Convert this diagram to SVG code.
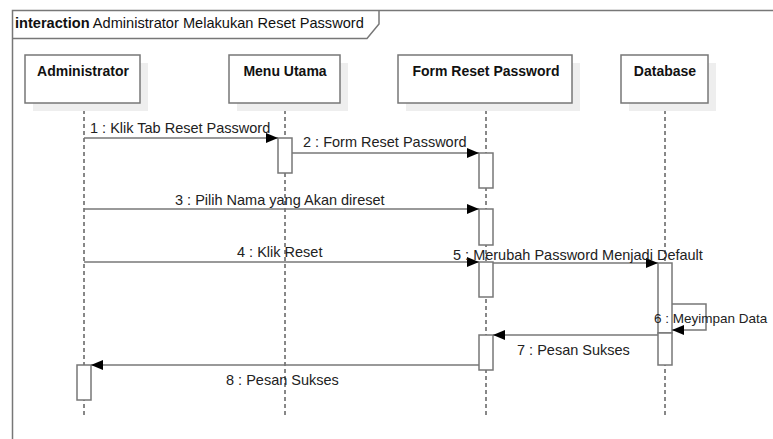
<svg xmlns="http://www.w3.org/2000/svg" width="773" height="439" viewBox="0 0 773 439">
<defs>
<style>
.frame{fill:none;stroke:#777;stroke-width:1.5}
.box{fill:#fff;stroke:#777;stroke-width:1.5}
.shadow{fill:#eeeeee;stroke:none}
.name{font-family:"Liberation Sans",Arial,sans-serif;font-weight:bold;font-size:14px;fill:#111;text-anchor:middle}
.title{font-family:"Liberation Sans",Arial,sans-serif;font-size:14.6px;fill:#111}
.lbl{font-family:"Liberation Sans",Arial,sans-serif;font-size:14.5px;fill:#222}
.lbl.small{font-size:13.5px}
.life{stroke:#111;stroke-width:1;stroke-dasharray:4 3;fill:none}
.act{fill:#fff;stroke:#777;stroke-width:1.5}
.msg{stroke:#777;stroke-width:1.5;fill:none;marker-end:url(#ah)}
</style>
<marker id="ah" viewBox="0 0 12 10" refX="12" refY="5" markerWidth="12" markerHeight="10" markerUnits="userSpaceOnUse" orient="auto">
<path d="M0,0 L12,5 L0,10 Z" fill="#000"/>
</marker>
</defs>
<rect width="773" height="439" fill="#fff"/>
<g id="frame">
<path class="frame" d="M12.5,439 V10.5 H773"/>
<path class="frame" d="M12.5,38.5 H367 L379,24 V10.5"/>
<text class="title" x="15" y="28"><tspan font-weight="bold">interaction</tspan> Administrator Melakukan Reset Password</text>
</g>
<g id="lifelines">
<line class="life" x1="84" y1="103" x2="84" y2="415"/>
<line class="life" x1="285" y1="103" x2="285" y2="415"/>
<line class="life" x1="486" y1="103" x2="486" y2="415"/>
<line class="life" x1="665" y1="103" x2="665" y2="415"/>
</g>
<g id="administrator">
<rect class="shadow" x="33" y="63" width="115" height="48"/>
<rect class="box" x="25" y="55" width="115" height="48"/>
<text class="name" x="83" y="76">Administrator</text>
</g>
<g id="menu-utama">
<rect class="shadow" x="237" y="63" width="111" height="48"/>
<rect class="box" x="229" y="55" width="111" height="48"/>
<text class="name" x="285" y="76">Menu Utama</text>
</g>
<g id="form-reset-password">
<rect class="shadow" x="406" y="63" width="174" height="48"/>
<rect class="box" x="398" y="55" width="174" height="48"/>
<text class="name" x="486" y="76">Form Reset Password</text>
</g>
<g id="database">
<rect class="shadow" x="629" y="63" width="87" height="48"/>
<rect class="box" x="621" y="55" width="87" height="48"/>
<text class="name" x="665" y="76">Database</text>
</g>
<g id="activations">
<rect class="act" x="278" y="138" width="14" height="35"/>
<rect class="act" x="479" y="153" width="14" height="35"/>
<rect class="act" x="479" y="209" width="14" height="36"/>
<rect class="act" x="479" y="262" width="14" height="35"/>
<rect class="act" x="658" y="263" width="14" height="70"/>
<rect class="act" x="658" y="333" width="14" height="32"/>
<rect class="act" x="479" y="335" width="14" height="35"/>
<rect class="act" x="77" y="365" width="14" height="35"/>
</g>
<g id="connectors">
<line class="msg" x1="84" y1="138" x2="278" y2="138"/>
<line class="msg" x1="292" y1="153" x2="479" y2="153"/>
<line class="msg" x1="84" y1="209" x2="479" y2="209"/>
<line class="msg" x1="84" y1="262" x2="479" y2="262"/>
<line class="msg" x1="493" y1="263" x2="658" y2="263"/>
<path class="msg" d="M672,304 H706 V330 H672"/>
<line class="msg" x1="658" y1="335" x2="493" y2="335"/>
<line class="msg" x1="479" y1="365" x2="91" y2="365"/>
<text class="lbl" x="90" y="133">1 : Klik Tab Reset Password</text>
<text class="lbl" x="303" y="147">2 : Form Reset Password</text>
<text class="lbl" x="175" y="205">3 : Pilih Nama yang Akan direset</text>
<text class="lbl" x="237" y="257">4 : Klik Reset</text>
<text class="lbl" x="453" y="260">5 : Merubah Password Menjadi Default</text>
<text class="lbl small" x="654" y="323">6 : Meyimpan Data</text>
<text class="lbl" x="517" y="355">7 : Pesan Sukses</text>
<text class="lbl" x="226" y="385">8 : Pesan Sukses</text>
</g>
</svg>
